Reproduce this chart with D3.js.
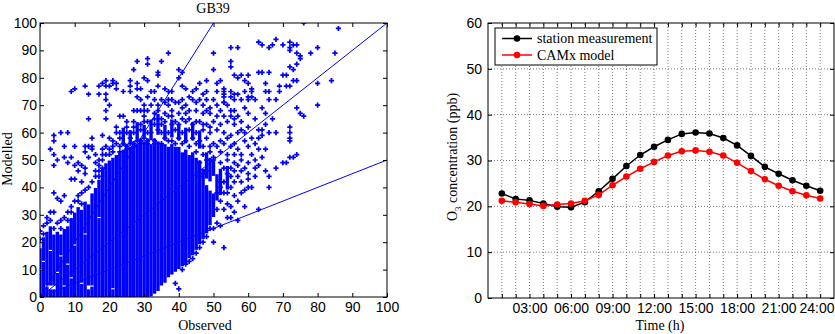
<!DOCTYPE html>
<html>
<head>
<meta charset="utf-8">
<script src="https://cdn.jsdelivr.net/npm/d3@7"></script>
<style>
  body { margin: 0; background: #fff; }
  svg { display: block; font-family: "Liberation Serif", "Times New Roman", serif; }
</style>
</head>
<body>
<svg id="chart" width="835" height="334"></svg>
<script>
// ---------- left panel: GB39 modelled vs observed ----------
// solid vertical runs of overlapping markers: [observed, modelled low, modelled high]
const denseRuns = [
  [0,0,9],[0,11,17],[1,0,12],[1,14,21],[2,0,3],[2,5,23],[3,0,2],[3,5,16],[3,18,25],[4,0,2],[4,5,22],
  [5,0,8],[5,10,23],[6,0,14],[6,16,22],[7,0,3],[7,5,24],[8,0,11],[8,13,25],[9,0,6],[9,8,28],
  [10,0,18],[10,20,30],[11,0,32],[12,0,4],[12,6,31],[13,0,22],[13,24,34],[14,0,2],[14,5,33],
  [15,0,3],[15,5,37],[16,0,39],[17,0,28],[17,30,42],[18,0,46],[19,0,48],
  [20,0,49],[21,0,2],[21,4,50],[22,0,51],[23,0,52],[24,0,53],[25,0,55],[26,0,54],[27,0,56],[28,0,55],[29,0,57],
  [30,0,56],[31,0,57],[32,1,55],[33,2,57],[34,3,56],[35,5,55],[36,6,55],[37,8,54],[38,9,55],[39,10,54],
  [40,11,54],[41,12,52],[42,13,53],[43,15,51],[44,16,52],[45,18,50],[46,20,49],[47,22,46],
  [48,24,40],[48,44,52],[49,27,38],[49,43,50],[50,30,37],[50,45,49],[51,36,44],[52,38,46],[54,40,47],
  [24,56,61],[26,57,60],[28,58,63],[30,59,62],[32,58,64],[34,60,66],[36,58,62],[38,59,64],
  [40,58,62],[42,57,61],[44,58,63],[46,55,60]
];

// individual scattered points: [observed, modelled]
const scatterPts = [
  [9,75],[10,76],[13,77],[14,74],[14,65],[17,77],[17,74],[19,79],[19,77],[19,74],[19,72],[19,68],[19,65],
  [20,77],[20,70],[21,79],[22,76],[24,75],[15,58],[18,59],[4,59],[4,57],[6,60],[8,60],[3,54],[4,52],
  [4,48],[5,50],[7,51],[8,49],[9,51],[10,55],[11,49],[10,48],[4,38],[5,36],[6,35],[7,37],[3,31],[4,31],
  [9,43],[10,43],[12,42],[13,45],[13,47],[14,51],[15,54],[16,49],[16,46],[17,46],[12,38],[10,35],[12,34],
  [2,29],[2,27],[13,53],[14,55],[11,46],[15,42],[14,40],[13,39],[11,37],[9,33],[8,31],[7,29],[6,28],
  [5,27],[1,26],[0,24],[0,21],[3,28],[16,44],[17,44],[18,50],[18,52],[17,50],[12,48],[7,55],[13,55],
  [15,55],[1,23],[4,25],[6,25],[8,28],[9,31],[11,35],
  [28,86],[31,87],[31,85],[27,83],[35,86],[34,82],[37,89],[40,83],[41,82],[40,80],[30,80],[31,79],
  [26,79],[26,77],[26,75],[28,78],[28,76],[29,76],[32,75],[34,77],[33,75],[36,76],[37,75],[28,73],
  [29,72],[31,73],[33,72],[35,72],[36,71],[37,72],[38,72],[39,71],[23,66],[24,66],[21,78],[22,78],
  [18,78],[34,81],
  [27,68],[28,68],[29,68],[30,68],[31,68],[33,67],[34,68],[36,67],[37,66],[38,68],[40,67],[41,69],
  [42,67],[43,68],[45,68],[47,67],[48,68],[49,67],[51,66],[52,68],[53,66],[55,68],[55,66],[56,65],
  [25,64],[27,64],[29,63],[30,64],[31,64],[33,63],[35,63],[36,64],[38,63],[39,64],[40,63],[42,64],
  [44,63],[46,64],[48,63],[50,64],[52,63],[54,64],[56,63],
  [22,60],[23,60],[24,60],[25,60],[26,60],[27,60],[29,61],[31,60],[32,60],[34,61],[35,60],[37,60],
  [39,61],[41,60],[43,61],[45,60],[47,61],[49,60],[51,61],[53,60],[55,59],[57,60],[58,61],
  [20,58],[21,57],[23,58],[26,58],[28,57],[30,58],[33,57],[36,58],[38,57],[40,58],[42,57],[44,58],
  [46,57],[48,58],[50,56],[52,57],[54,58],[56,56],[59,57],
  [19,55],[22,56],[24,56],[25,55],[27,56],[29,57],[31,56],[35,56],[37,57],[39,56],[41,56],[43,55],
  [45,56],[47,55],[49,55],[51,55],[53,56],[55,55],[57,54],[60,55],
  [19,52],[20,52],[21,53],[23,53],[25,54],[27,55],[29,56],[31,57],[33,56],[45,53],[47,52],[49,53],
  [50,51],[52,53],[54,52],[56,52],[58,52],[17,48],[18,47],[46,49],[48,50],[50,50],[52,49],[54,50],
  [56,49],[58,50],[60,49],
  [30,70],[32,70],[34,70],[37,70],[40,71],[42,70],[45,71],[47,70],[49,69],[51,70],[54,70],[41,72],
  [44,72],[46,72],[48,72],[50,72],[53,71],[56,72],[38,75],[42,76],[44,75],[47,74],[51,75],[53,74],
  [55,75],[57,74],[61,75],[61,73],
  [41,77],[43,73],[45,76],[46,78],[48,79],[48,75],[50,83],[50,89],[51,78],[52,79],[53,76],[55,84],
  [55,86],[55,91],[57,91],[56,81],[57,80],[58,81],[59,79],[60,81],[60,78],[58,72],[60,73],[59,69],
  [60,67],[76,100],[86,98],[63,93],[64,92],[66,91],[67,92],[68,94],[70,92],[72,93],[72,91],[72,90],
  [73,92],[74,92],[80,91],[85,89],[78,89],[74,89],[75,88],[63,82],[64,82],[66,82],[70,81],[71,81],
  [74,85],[75,87],[72,84],[74,79],[72,77],[71,77],[69,77],[69,75],[65,78],[65,75],[66,75],[66,72],
  [80,78],[84,79],[73,83],[73,79],[53,75],[53,73],[53,71],[55,73],[56,74],[59,75],[61,76],[62,72],
  [60,72],[64,69],[68,72],[74,69],[76,66],[75,67],[80,70],[72,62],[72,60],[72,58],[72,57],[68,60],
  [65,54],[63,61],[63,58],[64,61],[72,51],[73,51],[74,52],[70,49],[71,49],[68,47],[66,44],[65,46],
  [66,40],[63,32],[57,28],[50,20],[53,18],[62,44],[60,43],[61,40],[59,39],[58,38],[56,37],[54,34],
  [54,29],[55,29],[51,27],[52,26],[50,25],[49,25],[48,22],[47,20],[46,18],[45,16],[44,14],[43,13],
  [42,12],[41,10],[40,3],[39,5],
  [62,50],[61,52],[63,54],[62,56],[64,59],[66,60],[65,63],[67,65],[65,67],[62,65],[60,62],[59,60],
  [61,58],[58,64],[57,66],[56,68],[58,46],[57,44],[56,42],[55,40],[57,35],[59,33],[56,31],[55,33],
  [53,32],[52,35],[51,32],[51,38],[52,42],[54,45],[53,47],[55,47],[57,48],[59,47],[60,45],[63,48],[64,51],
  [53,38],[53,42],[55,44],[56,46],[58,42],[60,40],[62,47],[47,45],[46,44],[48,46],[52,40],[54,38],
  [22,62],[25,62],[27,62],[30,66],[33,65],[35,65],[38,66],[41,65],[43,65],[45,64],[47,63],[49,62],
  [21,55],[23,55],[26,56],[20,54],[18,54],[16,52]
];

// reference lines through the origin (slopes 2, 1 and 0.5)
const refSlopes = [2, 1, 0.5];
const scatterTicks = d3.range(0, 101, 10);

// ---------- right panel: diurnal O3 ----------
const hours = d3.range(1, 25);
const stationO3 = [22.8,21.6,21.3,20.6,19.9,19.8,20.9,23.3,26.0,28.8,31.2,33.0,
                   34.5,35.8,36.1,35.9,34.9,33.3,31.0,28.6,27.1,25.7,24.5,23.4];
const camxO3    = [21.2,20.9,20.5,20.1,20.4,20.6,21.2,22.5,24.6,26.5,28.2,29.7,
                   31.1,32.0,32.2,31.9,31.1,29.5,27.7,25.9,24.5,23.3,22.4,21.7];
const seriesNames = ['station measurement', 'CAMx model'];
const seriesColors = ['#000000', '#ff0000'];
const o3Ticks = d3.range(0, 61, 10);

const svg = d3.select('#chart');
const blue = '#0000ff';

// MATLAB-like boxed axes with inward ticks
const boxAxes = (g, xScale, yScale, xTicks, yTicks, xFmt, yFmt, padX, padY) => {
  const [x0, x1] = xScale.range();
  const [y1, y0] = yScale.range();
  const style = a => {
    a.select('.domain').remove();
    a.selectAll('line').attr('stroke', '#000');
    a.selectAll('text').attr('font-size', 14).attr('fill', '#000');
  };
  g.append('g').attr('class', 'x-axis').attr('transform', `translate(0,${y1})`)
    .call(d3.axisBottom(xScale).tickValues(xTicks).tickSizeInner(-4).tickSizeOuter(0)
      .tickPadding(padX).tickFormat(xFmt)).call(style);
  g.append('g').attr('transform', `translate(0,${y0})`)
    .call(d3.axisTop(xScale).tickValues(xTicks).tickSizeInner(-4).tickSizeOuter(0)
      .tickFormat('')).call(style);
  g.append('g').attr('transform', `translate(${x0},0)`)
    .call(d3.axisLeft(yScale).tickValues(yTicks).tickSizeInner(-4).tickSizeOuter(0)
      .tickPadding(padY).tickFormat(yFmt)).call(style);
  g.append('g').attr('transform', `translate(${x1},0)`)
    .call(d3.axisRight(yScale).tickValues(yTicks).tickSizeInner(-4).tickSizeOuter(0)
      .tickFormat('')).call(style);
  g.append('rect')
    .attr('x', x0).attr('y', y0)
    .attr('width', x1 - x0).attr('height', y1 - y0)
    .attr('fill', 'none').attr('stroke', '#000').attr('stroke-width', 1);
};

// ---- left ----
const xS = d3.scaleLinear().domain([0, 100]).range([40, 387]);
const yS = d3.scaleLinear().domain([0, 100]).range([297, 23]);

const left = svg.append('g').attr('class', 'scatter');
left.append('clipPath').attr('id', 'clip-left')
  .append('rect')
  .attr('x', xS(0)).attr('y', yS(100))
  .attr('width', xS(100) - xS(0)).attr('height', yS(0) - yS(100));

const pts = left.append('g').attr('clip-path', 'url(#clip-left)');
pts.selectAll('.run').data(denseRuns).enter().append('rect')
  .attr('class', 'run')
  .attr('x', d => xS(d[0]) - 1.7)
  .attr('width', 3.4)
  .attr('y', d => yS(d[2]) - 2.2)
  .attr('height', d => yS(d[1]) - yS(d[2]) + 4.4)
  .attr('fill', blue);

const marker = d3.symbol().type(d3.symbolCross).size(15);
pts.selectAll('.pt').data(scatterPts).enter().append('path')
  .attr('class', 'pt')
  .attr('transform', d => `translate(${xS(d[0])},${yS(d[1])})`)
  .attr('d', marker)
  .attr('fill', blue);

pts.selectAll('.ref').data(refSlopes).enter().append('line')
  .attr('class', 'ref')
  .attr('x1', xS(0)).attr('y1', yS(0))
  .attr('x2', d => xS(Math.min(100, 100 / d)))
  .attr('y2', d => yS(Math.min(100, 100 * d)))
  .attr('stroke', blue).attr('stroke-width', 1);

boxAxes(left, xS, yS, scatterTicks, scatterTicks, d3.format('d'), d3.format('d'), 5, 3);

left.append('text').attr('x', 213).attr('y', 13)
  .attr('text-anchor', 'middle').attr('font-size', 14).text('GB39');
left.append('text').attr('x', 205).attr('y', 330)
  .attr('text-anchor', 'middle').attr('font-size', 14).text('Observed');
left.append('text')
  .attr('transform', 'translate(7,159) rotate(-90)')
  .attr('dy', '0.35em')
  .attr('text-anchor', 'middle').attr('font-size', 14).text('Modelled');

// ---- right ----
const xR = d3.scaleLinear().domain([0, 25]).range([488, 834]);
const yR = d3.scaleLinear().domain([0, 60]).range([298, 23]);
const right = svg.append('g').attr('class', 'diurnal');

const grid = right.append('g').attr('class', 'grid')
  .attr('stroke', '#444').attr('stroke-width', 0.7).attr('stroke-dasharray', '1,2');
grid.selectAll('.vg').data(hours).enter().append('line')
  .attr('x1', d => xR(d)).attr('x2', d => xR(d))
  .attr('y1', yR(0)).attr('y2', yR(60));
grid.selectAll('.hg').data(o3Ticks.slice(1, -1)).enter().append('line')
  .attr('y1', d => yR(d)).attr('y2', d => yR(d))
  .attr('x1', xR(0)).attr('x2', xR(25));

const hourFmt = d => d % 3 === 0 ? d3.format('02d')(d) + ':00' : '';
boxAxes(right, xR, yR, hours, o3Ticks, hourFmt, d3.format('d'), 5, 6);
// keep the last label ("24:00") inside the page edge
right.select('.x-axis').selectAll('.tick').filter(d => d === 24).select('text')
  .attr('text-anchor', 'end').attr('x', 834 - xR(24));

const series = [stationO3, camxO3];
const line = d3.line().x((d, i) => xR(hours[i])).y(d => yR(d));
series.forEach((vals, k) => {
  const sg = right.append('g');
  sg.append('path').datum(vals)
    .attr('d', line).attr('fill', 'none')
    .attr('stroke', seriesColors[k]).attr('stroke-width', 1.5);
  sg.selectAll('circle').data(vals).enter().append('circle')
    .attr('cx', (d, i) => xR(hours[i])).attr('cy', d => yR(d))
    .attr('r', 3.3).attr('fill', seriesColors[k]);
});

// legend
const lg = right.append('g').attr('class', 'legend');
lg.append('rect').attr('x', 495).attr('y', 28).attr('width', 162).attr('height', 37)
  .attr('fill', '#fff').attr('stroke', '#000').attr('stroke-width', 1);
seriesNames.forEach((name, k) => {
  const ly = 38.5 + k * 16.5;
  lg.append('line').attr('x1', 502).attr('x2', 532).attr('y1', ly).attr('y2', ly)
    .attr('stroke', seriesColors[k]).attr('stroke-width', 1.5);
  lg.append('circle').attr('cx', 517).attr('cy', ly).attr('r', 3.3).attr('fill', seriesColors[k]);
  lg.append('text').attr('x', 537).attr('y', ly).attr('dy', '0.35em')
    .attr('font-size', 14).text(name);
});

right.append('text').attr('x', 660).attr('y', 330)
  .attr('text-anchor', 'middle').attr('font-size', 14).text('Time (h)');
const yl = right.append('text')
  .attr('transform', 'translate(452,157) rotate(-90)')
  .attr('dy', '0.35em')
  .attr('text-anchor', 'middle').attr('font-size', 14);
yl.append('tspan').text('O');
yl.append('tspan').attr('font-size', 9).attr('dy', '0.45em').text('3');
yl.append('tspan').attr('dy', '-0.3em').text(' concentration (ppb)');
</script>
</body>
</html>
